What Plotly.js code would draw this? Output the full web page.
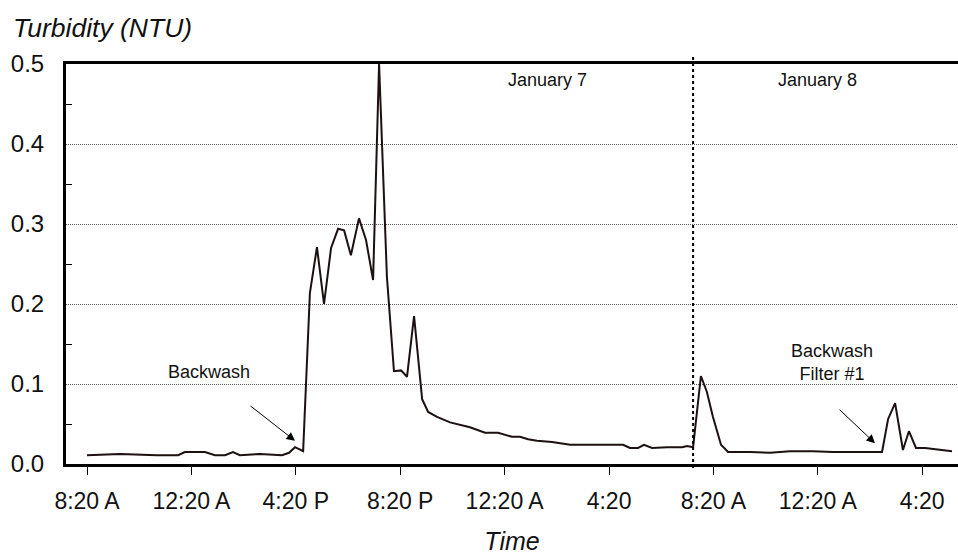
<!DOCTYPE html>
<html>
<head>
<meta charset="utf-8">
<script src="https://cdn.plot.ly/plotly-3.0.1.min.js"></script>
<style>html,body{margin:0;padding:0;background:#fff;}#chart{width:958px;height:555px;}</style>
</head>
<body>
<div id="chart"></div>
<script>
// Hours elapsed since the first 8:20 A reading
var hours = [0.00,1.26,2.68,3.49,3.75,4.52,4.90,5.29,5.59,5.86,6.63,7.47,7.74,7.97,8.28,
  8.54,8.81,9.08,9.35,9.62,9.85,10.11,10.42,10.69,10.96,11.19,11.49,11.76,12.03,12.26,12.53,
  12.84,13.07,13.41,13.91,14.67,15.25,15.75,16.28,16.59,16.90,17.24,17.82,18.12,18.51,19.16,
  19.77,20.54,20.80,21.11,21.34,21.65,22.22,22.80,22.99,23.22,23.52,23.75,23.98,24.29,24.56,
  25.40,26.17,26.93,27.82,28.58,30.46,30.69,30.96,31.26,31.49,31.76,32.11,32.41,32.80,33.14];
// Turbidity readings (NTU)
var turbidity = [0.011,0.0125,0.011,0.011,0.015,0.015,0.011,0.011,0.015,0.011,0.0125,0.011,0.014,0.021,0.016,
  0.214,0.271,0.200,0.270,0.294,0.292,0.261,0.307,0.280,0.230,0.500,0.234,0.116,0.117,0.109,0.185,
  0.081,0.065,0.059,0.052,0.046,0.039,0.039,0.034,0.034,0.031,0.029,0.0275,0.026,0.024,0.024,
  0.024,0.024,0.020,0.020,0.024,0.020,0.021,0.021,0.0225,0.021,0.110,0.090,0.059,0.024,0.015,
  0.015,0.014,0.016,0.016,0.015,0.015,0.056,0.076,0.0175,0.041,0.020,0.020,0.019,0.0175,0.016];

var tickHours = [0,4,8,12,16,20,24,28,32];
var tickLabels = ["8:20 A","12:20 A","4:20 P","8:20 P","12:20 A","4:20","8:20 A","12:20 A","4:20"];
var yTickVals = [0,0.1,0.2,0.3,0.4,0.5];
var yTickText = ["0.0","0.1","0.2","0.3","0.4","0.5"];
var yMinorVals = [0.05,0.15,0.25,0.35,0.45];
var dayBreakHour = 23.22;
var dayLabels = ["January 7","January 8"];
var dayLabelHours = [17.66,27.97];
var noteBackwash = "Backwash";
var noteBackwash2 = "Backwash<br>Filter #1";

var FONT = "Liberation Sans, Arial, sans-serif";

var trace = {
  x: hours, y: turbidity, type: "scatter", mode: "lines",
  line: {color: "#1c1010", width: 2}, hoverinfo: "skip", showlegend: false
};

var layout = {
  width: 958, height: 555,
  margin: {l: 66, r: 0, t: 64, b: 91},
  paper_bgcolor: "#fff", plot_bgcolor: "#fff",
  showlegend: false,
  title: {
    text: "<i>Turbidity (NTU)</i>",
    font: {family: FONT, size: 26.5, color: "#111"},
    xref: "container", yref: "container",
    x: 13/958, xanchor: "left", y: 1 - 28/555, yanchor: "middle"
  },
  xaxis: {
    range: [-0.805, 33.37],
    tickmode: "array", tickvals: tickHours, ticktext: tickLabels,
    ticks: "outside", ticklen: 8, tickwidth: 1, tickcolor: "#000",
    tickfont: {family: FONT, size: 23, color: "#111"},
    ticklabelstandoff: 6,
    showline: true, linewidth: 3, linecolor: "#000", mirror: true,
    showgrid: false, zeroline: false,
    title: {text: "<i>Time</i>", font: {family: FONT, size: 25, color: "#111"}, standoff: 22}
  },
  yaxis: {
    range: [0, 0.5],
    tickmode: "array", tickvals: yTickVals, ticktext: yTickText,
    ticks: "", tickfont: {family: FONT, size: 24, color: "#111"},
    ticklabelstandoff: 14,
    showline: true, linewidth: 3, linecolor: "#000", mirror: false,
    showgrid: true, gridcolor: "#555", griddash: "1px,1px", gridwidth: 1,
    zeroline: false,
    minor: {tickmode: "array", tickvals: yMinorVals, ticks: "inside", ticklen: 6, tickwidth: 1, tickcolor: "#000", showgrid: false}
  },
  shapes: [
    {type: "rect", xref: "paper", yref: "y", x0: 0, x1: 61/892, y0: 0.097, y1: 0.103,
     fillcolor: "#fff", line: {width: 0}, layer: "between"},
    {type: "line", xref: "x", yref: "paper", x0: dayBreakHour, x1: dayBreakHour, y0: -0.01, y1: 1.0175,
     line: {color: "#000", width: 2, dash: "dot"}, layer: "above"}
  ],
  annotations: [
    {x: dayLabelHours[0], y: 0.48, xref: "x", yref: "y", text: dayLabels[0], showarrow: false,
     font: {family: FONT, size: 18, color: "#111"}},
    {x: dayLabelHours[1], y: 0.48, xref: "x", yref: "y", text: dayLabels[1], showarrow: false,
     font: {family: FONT, size: 18, color: "#111"}},
    {x: 4.67, y: 0.1144, xref: "x", yref: "y", text: noteBackwash, showarrow: false,
     font: {family: FONT, size: 18, color: "#111"}},
    {x: 28.54, y: 0.1275, xref: "x", yref: "y", text: noteBackwash2, showarrow: false,
     font: {family: FONT, size: 18, color: "#111"}},
    {x: 7.97, y: 0.029, xref: "x", yref: "y", text: "", showarrow: true, ax: -46, ay: -36,
     arrowhead: 2, arrowsize: 1.7, arrowwidth: 1, arrowcolor: "#000", standoff: 0},
    {x: 30.19, y: 0.026, xref: "x", yref: "y", text: "", showarrow: true, ax: -37, ay: -35,
     arrowhead: 2, arrowsize: 1.7, arrowwidth: 1, arrowcolor: "#000", standoff: 0}
  ]
};

Plotly.newPlot("chart", [trace], layout, {staticPlot: true, displayModeBar: false});
</script>
</body>
</html>
